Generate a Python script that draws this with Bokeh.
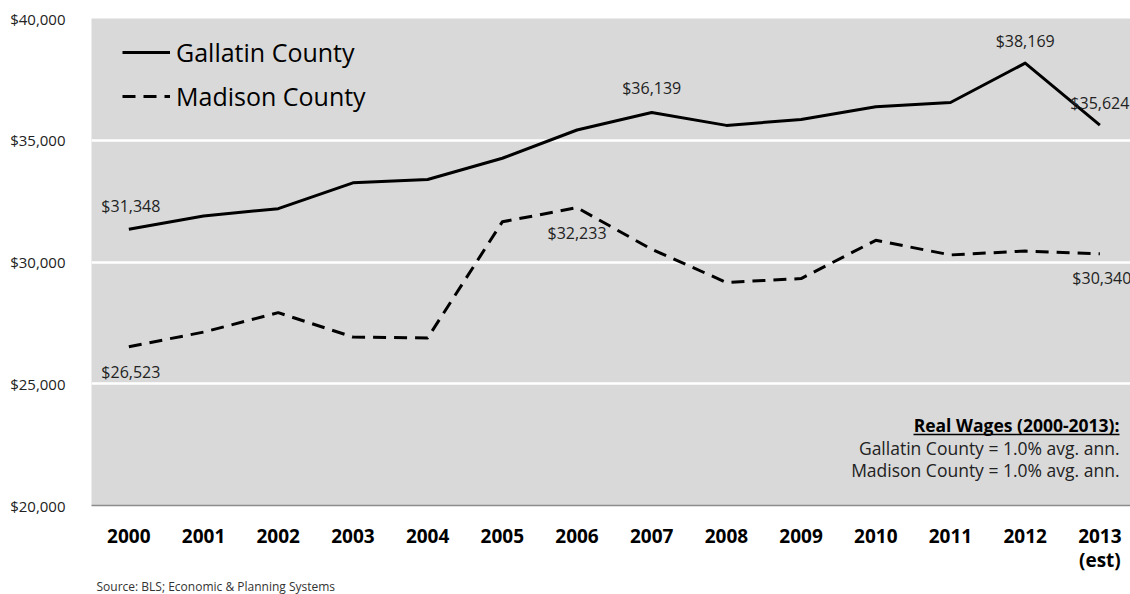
from bokeh.plotting import figure
from bokeh.models import (ColumnDataSource, Range1d, FixedTicker, NumeralTickFormatter,
                          Legend, LegendItem, Label, Title)
from bokeh.embed import file_html
from bokeh.resources import INLINE

# Average annual wages (real dollars)
years = ["2000", "2001", "2002", "2003", "2004", "2005", "2006",
         "2007", "2008", "2009", "2010", "2011", "2012", "2013\n(est)"]
gallatin = [31348, 31890, 32190, 33250, 33390, 34260, 35420,
            36139, 35610, 35850, 36380, 36550, 38169, 35624]
madison = [26523, 27120, 27920, 26920, 26880, 31650, 32233,
           30520, 29160, 29320, 30890, 30290, 30450, 30340]
y_ticks = [20000, 25000, 30000, 35000, 40000]
source_note = "Source: BLS; Economic & Planning Systems"

# which points carry a value label, and where the label sits (pixels)
gallatin_labeled = [0, 7, 12, 13]
gallatin_label_dx = [2, 0, 0, 0]
gallatin_label_dy = [-23, -25, -22, -22]
madison_labeled = [0, 6, 13]
madison_label_dx = [2, 0, 2]
madison_label_dy = [25, 25, 24]

FONT = "Open Sans"
W, H = 1130, 594
LEFT, TOP, BOTTOM = 91, 18, 89
X0, X1 = -0.5, 13.41
Y0, Y1 = 20000, 40000
frame_w = W - LEFT
frame_h = H - TOP - BOTTOM


def sx(px):
    return X0 + (px - LEFT) * (X1 - X0) / frame_w


def sy(py):
    return Y0 + (TOP + frame_h - py) * (Y1 - Y0) / frame_h


xs = list(range(len(years)))

p = figure(width=W, height=H, output_backend="svg", toolbar_location=None,
           x_range=Range1d(X0, X1), y_range=Range1d(Y0, Y1),
           min_border_left=LEFT, min_border_right=0,
           min_border_top=TOP, min_border_bottom=BOTTOM)
p.background_fill_color = "#d9d9d9"
p.border_fill_color = "white"
p.outline_line_color = None

# grid
p.xgrid.grid_line_color = None
p.ygrid.ticker = FixedTicker(ticks=[25000, 30000, 35000])
p.ygrid.grid_line_color = "white"
p.ygrid.grid_line_width = 2.5

# axes
p.yaxis.ticker = FixedTicker(ticks=y_ticks)
p.yaxis.formatter = NumeralTickFormatter(format="$0,0")
p.yaxis.axis_line_color = None
p.yaxis.major_tick_line_color = None
p.yaxis.minor_tick_line_color = None
p.yaxis.major_label_text_font = FONT
p.yaxis.major_label_text_font_size = "15px"
p.yaxis.major_label_text_color = "#222222"
p.yaxis.major_label_standoff = 20

p.xaxis.ticker = FixedTicker(ticks=xs)
p.xaxis.major_label_overrides = {i: lab for i, lab in enumerate(years)}
p.xaxis.axis_line_color = "#8c8c8c"
p.xaxis.axis_line_width = 1.5
p.xaxis.major_tick_line_color = None
p.xaxis.minor_tick_line_color = None
p.xaxis.major_label_text_font = FONT
p.xaxis.major_label_text_font_size = "19px"
p.xaxis.major_label_text_font_style = "bold"
p.xaxis.major_label_text_color = "black"
p.xaxis.major_label_text_line_height = 0.93
p.xaxis.major_label_standoff = 11

# source note under the year labels
p.add_layout(Title(text=source_note, align="left", offset=5, standoff=0,
                   text_font=FONT, text_font_size="12px", text_font_style="normal",
                   text_color="#333333"), "below")

src = ColumnDataSource(dict(x=xs, gallatin=gallatin, madison=madison))
r_g = p.line("x", "gallatin", source=src, line_color="black", line_width=3,
             line_join="round")
r_m = p.line("x", "madison", source=src, line_color="black", line_width=3,
             line_dash="13 8", line_join="round")


def label_source(values, idx, dx, dy):
    return ColumnDataSource(dict(
        x=[xs[i] for i in idx],
        y=[values[i] for i in idx],
        text=["${:,.0f}".format(values[i]) for i in idx],
        dx=dx, dy=dy))


for s in (label_source(gallatin, gallatin_labeled, gallatin_label_dx, gallatin_label_dy),
          label_source(madison, madison_labeled, madison_label_dx, madison_label_dy)):
    p.text("x", "y", text="text", source=s, x_offset="dx", y_offset="dy",
           text_align="center", text_baseline="middle",
           text_font_size="16px", text_color="#222222", text_font={"value": FONT})

legend = Legend(items=[LegendItem(label="Gallatin County", renderers=[r_g]),
                       LegendItem(label="Madison County", renderers=[r_m])],
                margin=0, padding=0,
                background_fill_alpha=0, border_line_alpha=0,
                glyph_width=48, glyph_height=30, label_standoff=6, spacing=10,
                label_text_font=FONT, label_text_font_size="25px",
                label_text_color="black")
legend.location = (31, frame_h - 17 - 78)
p.add_layout(legend)

# summary note
note_x = sx(1119)
p.add_layout(Label(x=note_x, y=sy(424), text="Real Wages (2000-2013):",
                   text_align="right", text_baseline="middle", text_font=FONT,
                   text_font_size="17.5px", text_font_style="bold", text_color="black"))
p.line([sx(913), note_x], [sy(434), sy(434)], line_color="black", line_width=1.3)
p.add_layout(Label(x=note_x, y=sy(447), text="Gallatin County = 1.0% avg. ann.",
                   text_align="right", text_baseline="middle", text_font=FONT,
                   text_font_size="17.5px", text_color="#222222"))
p.add_layout(Label(x=note_x, y=sy(469), text="Madison County = 1.0% avg. ann.",
                   text_align="right", text_baseline="middle", text_font=FONT,
                   text_font_size="17.5px", text_color="#222222"))

open("out.html", "w").write(file_html(p, INLINE))
